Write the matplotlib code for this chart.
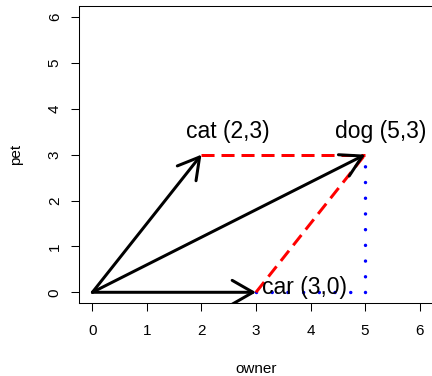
import matplotlib
matplotlib.use("Agg")
import matplotlib.pyplot as plt

plt.rcParams['font.family'] = ['Liberation Sans', 'DejaVu Sans']
plt.rcParams['lines.scale_dashes'] = False

# data
names = ['cat', 'dog', 'car']
vx = [2, 5, 3]
vy = [3, 3, 0]
label_x = [2.49, 5.28, 3.11]
label_y = [3.5, 3.5, 0.1]
label_ha = ['center', 'center', 'left']
# red dashed: parallelogram completion
red_x = [[2, 5], [3, 5]]
red_y = [[3, 3], [0, 3]]
# blue dotted: components of dog
blue_x = [[3, 5], [5, 5]]
blue_y = [[0, 0], [0, 3]]
xticks = [0, 1, 2, 3, 4, 5, 6]
yticks = [0, 1, 2, 3, 4, 5, 6]

W, H = 432, 376
fig = plt.figure(figsize=(W / 100, H / 100), dpi=100)
left, right, top, bottom = 79.3, 432.7, 6.0, 303.3
ax = fig.add_axes([left / W, 1 - bottom / H, (right - left) / W, (bottom - top) / H])
ax.set_xlim(-0.24, 6.24)
ax.set_ylim(-0.24, 6.24)

lw = 2.16
for xs, ys in zip(blue_x, blue_y):
    ax.plot(xs, ys, color='blue', lw=2.5, dashes=(0.01, 11.3),
            dash_capstyle='round')
for xs, ys in zip(red_x, red_y):
    ax.plot(xs, ys, color='red', lw=lw, dashes=(9.4, 5.0), dash_capstyle='butt')

for x, y in zip(vx, vy):
    ann = ax.annotate('', xy=(x, y), xytext=(0, 0),
                      arrowprops=dict(arrowstyle='->,head_length=1.5,head_width=0.86',
                                      lw=lw, color='black', shrinkA=0, shrinkB=0,
                                      mutation_scale=10, capstyle='round',
                                      joinstyle='round'))
    ann.arrow_patch.set_clip_on(True)
    ann.arrow_patch.set_clip_box(ax.bbox)

for n, x, y, lx, ly, ha in zip(names, vx, vy, label_x, label_y, label_ha):
    ax.text(lx, ly, f"{n} ({x},{y})", ha=ha, va='center', fontsize=16.5)

ax.set_xticks(xticks)
ax.set_yticks(yticks)
ax.tick_params(axis='both', length=5.8, width=0.75, labelsize=11, direction='out')
ax.tick_params(axis='x', pad=9.2)
ax.tick_params(axis='y', pad=6.8)
for lab in ax.get_yticklabels():
    lab.set_rotation(90)
    lab.set_va('center')
for s in ax.spines.values():
    s.set_linewidth(0.75)

ax.set_xlabel('owner', fontsize=11)
ax.set_ylabel('pet', fontsize=11)
ax.xaxis.set_label_coords(0.5, (bottom - 369) / (bottom - top))
ax.xaxis.label.set_va('center')
ax.yaxis.set_label_coords((16 - left) / (right - left), 0.5)
ax.yaxis.label.set_va('center')

fig.savefig('out.png', dpi=100)
